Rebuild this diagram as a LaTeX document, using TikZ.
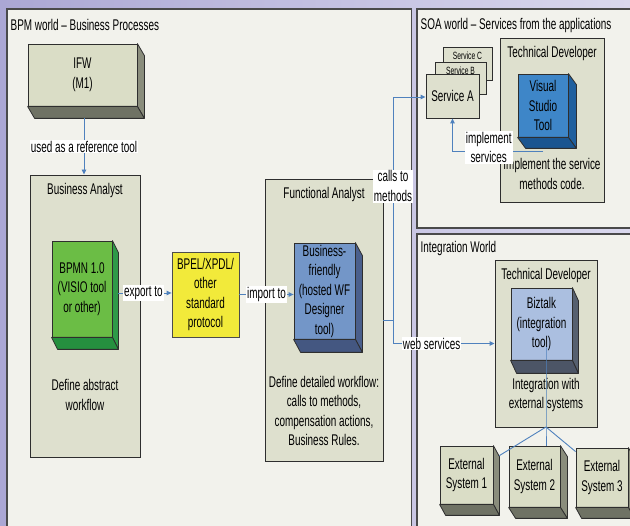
\documentclass[tikz,border=0pt]{standalone}
\usepackage{fontspec}
\setmainfont[FakeStretch=0.64]{Liberation Sans}
\usetikzlibrary{calc,arrows.meta}
\definecolor{lavL}{HTML}{ABA7D4}
\definecolor{lavR}{HTML}{DAD8ED}
\definecolor{panelbg}{HTML}{F2F2EC}
\definecolor{paneledge}{HTML}{4A4A4A}
\definecolor{rolebg}{HTML}{DEE0CE}
\definecolor{edge}{HTML}{2E2E2E}
\definecolor{greyfront}{HTML}{DADDC6}
\definecolor{greyside}{HTML}{8A8D7C}
\definecolor{greybot}{HTML}{6F7264}
\definecolor{greenfront}{HTML}{6BBD45}
\definecolor{greenside}{HTML}{2E9A48}
\definecolor{greenbot}{HTML}{25903F}
\definecolor{bffront}{HTML}{7396C8}
\definecolor{bfside}{HTML}{4A5F8C}
\definecolor{bfbot}{HTML}{445781}
\definecolor{vsfront}{HTML}{3E86C8}
\definecolor{vsside}{HTML}{1F5F9E}
\definecolor{vsbot}{HTML}{1A5590}
\definecolor{bzfront}{HTML}{ABBFE0}
\definecolor{bzside}{HTML}{56606F}
\definecolor{bzbot}{HTML}{4C5566}
\definecolor{bpelfill}{HTML}{F2EA3A}
\definecolor{conncol}{HTML}{4F81BD}
\newcommand\boxsides[5]{%
  \filldraw[fill=#4,draw=edge,line width=0.8pt,line join=round] (#1.north east) -- ++(#2,#3) -- ($(#1.south east)+(#2,#3)$) -- (#1.south east) -- cycle;
  \filldraw[fill=#5,draw=edge,line width=0.8pt,line join=round] (#1.south west) -- ++(#2,#3) -- ($(#1.south east)+(#2,#3)$) -- (#1.south east) -- cycle;
}
\tikzset{
  panel/.style={fill=panelbg,draw=paneledge,line width=1.2pt},
  role/.style={fill=rolebg,draw=edge,line width=0.9pt,inner sep=0pt},
  front/.style={draw=edge,line width=0.8pt,inner sep=0pt,align=center},
  plain/.style={inner sep=0pt,align=center},
  lbl/.style={fill=white,inner sep=1pt,align=center},
  conn/.style={draw=conncol,line width=0.9pt,-{Triangle[length=5pt,width=4.5pt]}},
  wire/.style={draw=conncol,line width=0.9pt},
}
\begin{document}
\begin{tikzpicture}[x=1pt,y=-1pt,font=\fontsize{15.5}{19.5}\selectfont]
\useasboundingbox (0,0) rectangle (630,526);
\clip (0,0) rectangle (630,526);
\shade[left color=lavL,right color=lavR] (0,0) rectangle (630,526);
% panels
\filldraw[panel] (7,9) rectangle (411.5,540);
\filldraw[panel] (417,9) rectangle (640,228);
\filldraw[panel] (417,234) rectangle (640,540);
\node[plain,anchor=west] (t1) at (10.5,25) {BPM world – Business Processes};
\node[plain,anchor=west] (t2) at (420.5,25) {SOA world – Services from the applications};
\node[plain,anchor=west] (t3) at (420.5,248) {Integration World};
% role boxes
\node[role,minimum width=110pt,minimum height=282pt] (ba) at (85,316) {};
\node[role,minimum width=118pt,minimum height=282pt] (fa) at (324,320) {};
\node[role,minimum width=104pt,minimum height=164pt] (tds) at (552,120) {};
\node[role,minimum width=102pt,minimum height=167pt] (tdi) at (546,343.5) {};
\node[plain] (bat) at (85,190) {Business Analyst};
\node[plain] (fat) at (324,194) {Functional Analyst};
\node[plain] (tdst) at (552,53) {Technical Developer};
\node[plain] (tdit) at (546,275) {Technical Developer};
\node[plain] (bad) at (85,395) {Define abstract\\workflow};
\node[plain] (fad) at (324,411) {Define detailed workflow:\\calls to methods,\\compensation actions,\\Business Rules.};
\node[plain] (tdsd) at (552,174) {Implement the service\\methods code.};
\node[plain] (tdid) at (546,395) {Integration with\\external systems};
% 3D boxes
\node[front,fill=greyfront,minimum width=109pt,minimum height=62pt] (ifw) at (82.5,75) {IFW\\(M1)};
\boxsides{ifw}{7}{12}{greyside}{greybot}
\node[front,fill=greenfront,minimum width=60pt,minimum height=96pt] (bpmn) at (82,289) {BPMN 1.0\\(VISIO tool\\or other)};
\boxsides{bpmn}{6}{12}{greenside}{greenbot}
\node[front,fill=bffront,minimum width=61pt,minimum height=96pt] (bf) at (324.5,291) {Business-\\friendly\\(hosted WF\\Designer\\tool)};
\boxsides{bf}{7}{13}{bfside}{bfbot}
\node[front,fill=vsfront,minimum width=50pt,minimum height=63pt] (vs) at (543,105.5) {Visual\\Studio\\Tool};
\boxsides{vs}{8}{11}{vsside}{vsbot}
\node[front,fill=bzfront,minimum width=61pt,minimum height=72pt] (bz) at (541.5,324) {Biztalk\\(integration\\tool)};
\boxsides{bz}{6}{13}{bzside}{bzbot}
\node[front,fill=greyfront,minimum width=53pt,minimum height=58pt] (e1) at (466.5,475) {External\\System 1};
\boxsides{e1}{6}{11}{greyside}{greybot}
\node[front,fill=greyfront,minimum width=51pt,minimum height=61pt] (e2) at (534.5,476.5) {External\\System 2};
\boxsides{e2}{7}{11}{greyside}{greybot}
\node[front,fill=greyfront,minimum width=52pt,minimum height=59pt] (e3) at (602,477.5) {External\\System 3};
\boxsides{e3}{6}{11}{greyside}{greybot}
% BPEL
\node[front,fill=bpelfill,draw=black!70,minimum width=67pt,minimum height=85pt] (bpel) at (205.5,294.5) {BPEL/XPDL/\\other\\standard\\protocol};
% services
\node[role,minimum width=49pt,minimum height=33pt] (sc) at (467.5,63.5) {};
\node[plain,font=\fontsize{10.5}{12}\selectfont] (sct) at (467.5,55.5) {Service C};
\node[role,minimum width=51pt,minimum height=32pt] (sb) at (460.5,78) {};
\node[plain,font=\fontsize{10.5}{12}\selectfont] (sbt) at (460.5,70.5) {Service B};
\node[role,minimum width=53pt,minimum height=44pt] (sa) at (452.5,96) {Service A};
% connectors
\coordinate (ifwb) at ($(ifw.south)+(1.5,12)$);
\draw[conn] (ifwb) -- node[lbl]{used as a reference tool} (ifwb |- ba.north);
\coordinate (ex) at ($(bpmn.east)+(6,4)$);
\draw[conn] (ex) -- node[lbl,pos=0.47]{export to} (ex -| bpel.west);
\draw[conn] (bpel.east) -- node[lbl,pos=0.5]{import to} (bpel.east -| bf.west);
\coordinate (j1) at (393,320);
\draw[wire] (fa.east |- j1) -- (j1);
\draw[conn] (j1) |- node[lbl,pos=0.3]{calls to\\methods} ($(sa.west)+(0,1)$);
\draw[conn] (j1) |- node[lbl,pos=0.69]{web services} (tdi.west);
\coordinate (vsb) at ($(vs.south)+(0,14)$);
\draw[conn] (vsb) -| node[lbl,pos=0.3,yshift=4pt]{implement\\services} (sa.south);
\coordinate (hub) at (546,427);
\coordinate (bzc) at ($(bz.center)+(4.5,23)$);
\draw[wire] (bzc) -- (hub) -- (hub |- e2.north);
\draw[wire] (hub) -- ($(e1.north east)+(6,10)$);
\draw[wire] (hub) -- ($(e3.north west)+(0,4)$);
\end{tikzpicture}
\end{document}
